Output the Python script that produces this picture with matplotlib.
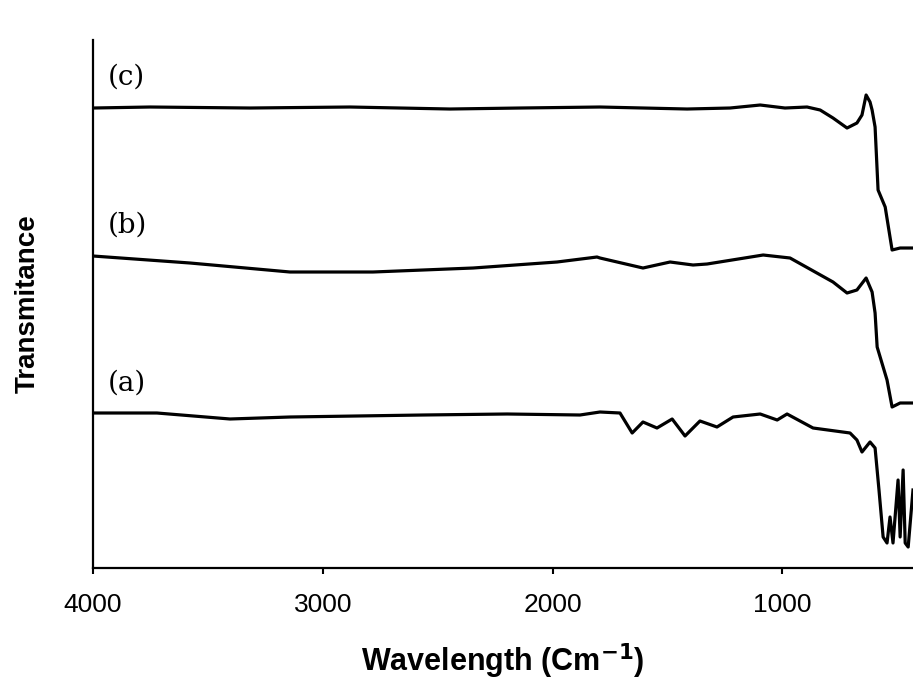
import numpy as np
import matplotlib.pyplot as plt

# wavenumber (cm-1) and transmittance (arbitrary units)
wn_c = [4000, 3752, 3317, 2882, 2447, 2142, 1794, 1415, 1228, 1097, 989, 893,
        836, 780, 719, 676, 654, 636, 619, 610, 597, 584, 553, 523, 488, 432]
t_c = [460, 461, 460, 461, 459, 460, 461, 459, 460, 463, 460, 461,
       458, 450, 440, 445, 453, 473, 466, 458, 441, 378, 361, 318, 320, 320]

wn_b = [4000, 3578, 3143, 2782, 2346, 1981, 1807, 1794, 1607, 1489, 1389, 1328,
        1084, 967, 780, 719, 676, 636, 610, 597, 588, 545, 523, 488, 432]
t_b = [312, 305, 296, 296, 300, 306, 311, 310, 300, 306, 303, 304,
       313, 310, 286, 275, 278, 290, 276, 255, 221, 188, 161, 165, 165]

wn_a = [4000, 3722, 3404, 3143, 2564, 2198, 1881, 1794, 1707, 1654, 1607, 1546,
        1480, 1424, 1359, 1285, 1215, 1097, 1023, 980, 867, 706, 676, 654, 619,
        597, 580, 562, 545, 532, 519, 497, 488, 475, 466, 453, 432]
t_a = [155, 155, 149, 151, 153, 154, 153, 156, 155, 135, 146, 140,
       149, 132, 147, 141, 151, 154, 148, 154, 140, 135, 128, 116, 126,
       120, 78, 31, 25, 51, 25, 88, 31, 98, 25, 21, 78]

labels = ["(a)", "(b)", "(c)"]
label_y = [185, 343, 491]

fig = plt.figure(figsize=(9.13, 6.84), dpi=100)
ax = fig.add_axes([0.1019, 0.1696, 0.8981, 0.7719])

for wn, t in [(wn_a, t_a), (wn_b, t_b), (wn_c, t_c)]:
    ax.plot(wn, t, color='black', lw=2.3)

for lab, y in zip(labels, label_y):
    ax.text(3935, y, lab, family='DejaVu Serif', fontsize=20,
            va='center', ha='left')

ax.set_xlim(4000, 432)
ax.set_ylim(0, 528)
ax.set_xticks([4000, 3000, 2000, 1000])
ax.set_yticks([])
ax.tick_params(axis='x', direction='out', length=4, width=1.5, pad=14,
               labelsize=19)
for lab in ax.get_xticklabels():
    lab.set_family('Liberation Sans')

ax.spines['top'].set_visible(False)
ax.spines['right'].set_visible(False)
ax.spines['left'].set_linewidth(1.6)
ax.spines['bottom'].set_linewidth(1.6)

ax.set_xlabel('Wavelength (Cm$^{\\mathbf{-1}}$)', family='Liberation Sans',
              fontweight='bold', fontsize=22, labelpad=18)
ax.set_ylabel('Transmitance', family='Liberation Sans', fontweight='bold',
              fontsize=20, labelpad=38)

fig.savefig('out.png', dpi=100)
